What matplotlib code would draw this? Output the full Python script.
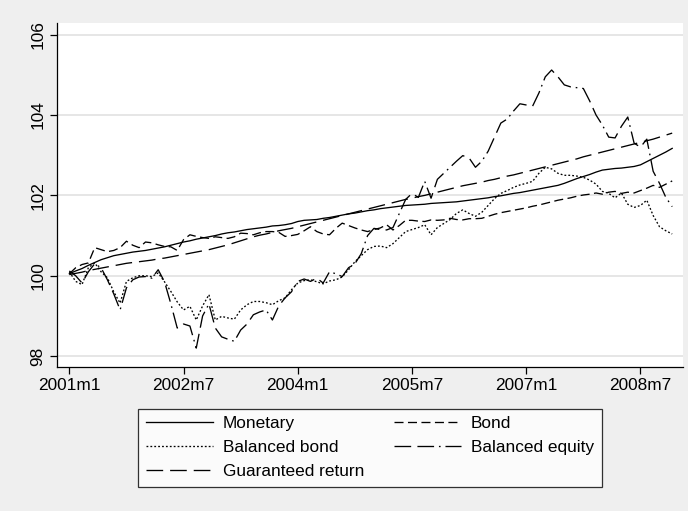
import matplotlib
matplotlib.use("Agg")
import matplotlib.pyplot as plt

plt.rcParams['font.family'] = ['Liberation Sans', 'DejaVu Sans']
plt.rcParams['lines.scale_dashes'] = False

# ---- data: monthly index values, 2001m1 .. 2008m12 ----
months = list(range(96))
xtick_pos = [0, 18, 36, 54, 72, 90]
xtick_labels = ["2001m1", "2002m7", "2004m1", "2005m7", "2007m1", "2008m7"]
ytick_pos = [98, 100, 102, 104, 106]

monetary = [100.05, 100.12, 100.18, 100.26, 100.33, 100.40, 100.45, 100.50, 100.53, 100.56,
            100.59, 100.61, 100.63, 100.66, 100.69, 100.72, 100.76, 100.80, 100.84, 100.87,
            100.91, 100.94, 100.97, 101.00, 101.04, 101.07, 101.09, 101.12, 101.15, 101.17,
            101.19, 101.21, 101.24, 101.25, 101.27, 101.30, 101.35, 101.38, 101.39, 101.40,
            101.43, 101.45, 101.48, 101.51, 101.54, 101.56, 101.59, 101.62, 101.64, 101.67,
            101.69, 101.71, 101.73, 101.75, 101.76, 101.77, 101.78, 101.80, 101.81, 101.82,
            101.83, 101.84, 101.86, 101.88, 101.90, 101.92, 101.94, 101.97, 101.99, 102.02,
            102.05, 102.07, 102.10, 102.13, 102.16, 102.19, 102.22, 102.25, 102.30, 102.36,
            102.42, 102.47, 102.52, 102.58, 102.63, 102.65, 102.67, 102.68, 102.70, 102.72,
            102.76, 102.84, 102.92, 103.00, 103.08, 103.17]

bond = [100.05, 100.20, 100.28, 100.32, 100.70, 100.65, 100.60, 100.63, 100.70, 100.86,
        100.76, 100.70, 100.84, 100.82, 100.77, 100.73, 100.72, 100.63, 100.90, 101.02,
        100.98, 100.95, 100.93, 100.97, 100.95, 100.93, 100.97, 101.06, 101.05, 101.02,
        101.07, 101.10, 101.10, 101.08, 100.98, 101.00, 101.03, 101.12, 101.22, 101.10,
        101.04, 101.02, 101.18, 101.31, 101.25, 101.19, 101.14, 101.10, 101.15, 101.19,
        101.27, 101.14, 101.25, 101.38, 101.38, 101.36, 101.35, 101.39, 101.38, 101.39,
        101.43, 101.40, 101.39, 101.42, 101.42, 101.43, 101.48, 101.53, 101.57, 101.60,
        101.63, 101.66, 101.69, 101.73, 101.76, 101.80, 101.84, 101.88, 101.91, 101.94,
        101.98, 102.01, 102.03, 102.06, 102.03, 102.08, 102.10, 102.05, 102.08, 102.06,
        102.12, 102.18, 102.25, 102.20, 102.28, 102.36]

balanced_bond = [100.10, 99.86, 99.78, 100.20, 100.32, 100.10, 99.95, 99.60, 99.32, 99.86,
                 99.95, 100.00, 100.00, 99.98, 100.07, 99.85, 99.61, 99.35, 99.15, 99.24,
                 98.90, 99.25, 99.53, 98.90, 98.99, 98.95, 98.92, 99.15, 99.28, 99.36,
                 99.36, 99.33, 99.28, 99.38, 99.45, 99.65, 99.82, 99.88, 99.90, 99.85,
                 99.80, 99.87, 99.90, 99.97, 100.15, 100.35, 100.50, 100.65, 100.73, 100.74,
                 100.70, 100.80, 100.95, 101.10, 101.15, 101.20, 101.27, 101.02, 101.20, 101.30,
                 101.40, 101.55, 101.64, 101.55, 101.48, 101.58, 101.75, 101.92, 102.05, 102.12,
                 102.20, 102.26, 102.30, 102.35, 102.55, 102.70, 102.66, 102.55, 102.50, 102.50,
                 102.48, 102.45, 102.38, 102.28, 102.10, 102.05, 101.94, 102.06, 101.78, 101.70,
                 101.75, 101.88, 101.50, 101.22, 101.12, 101.04]

balanced_equity = [100.12, 100.00, 99.82, 100.10, 100.30, 100.20, 99.90, 99.55, 99.15, 99.70,
                   99.90, 99.97, 99.98, 99.94, 100.15, 99.85, 99.30, 98.70, 98.80, 98.75,
                   98.20, 99.00, 99.30, 98.70, 98.48, 98.42, 98.37, 98.65, 98.80, 99.03,
                   99.10, 99.15, 98.90, 99.25, 99.45, 99.60, 99.86, 99.92, 99.86, 99.94,
                   99.82, 100.10, 100.05, 99.98, 100.20, 100.30, 100.55, 101.00, 101.18, 101.15,
                   101.14, 101.20, 101.55, 101.90, 102.05, 101.95, 102.35, 101.93, 102.40, 102.55,
                   102.70, 102.85, 102.99, 102.93, 102.70, 102.85, 103.10, 103.45, 103.80, 103.90,
                   104.10, 104.28, 104.25, 104.22, 104.55, 104.95, 105.12, 104.95, 104.75, 104.70,
                   104.68, 104.66, 104.35, 104.00, 103.75, 103.45, 103.43, 103.72, 103.95, 103.30,
                   103.20, 103.40, 102.60, 102.30, 101.95, 101.72]

guaranteed = [100.03, 100.06, 100.09, 100.13, 100.16, 100.19, 100.22, 100.25, 100.28, 100.31,
              100.33, 100.35, 100.37, 100.39, 100.42, 100.44, 100.47, 100.50, 100.53, 100.56,
              100.59, 100.62, 100.65, 100.69, 100.73, 100.77, 100.82, 100.87, 100.92, 100.97,
              101.01, 101.04, 101.08, 101.12, 101.15, 101.18, 101.22, 101.26, 101.30, 101.34,
              101.38, 101.42, 101.46, 101.50, 101.54, 101.58, 101.62, 101.66, 101.70, 101.74,
              101.78, 101.82, 101.86, 101.90, 101.93, 101.97, 102.00, 102.04, 102.08, 102.12,
              102.16, 102.20, 102.24, 102.27, 102.30, 102.33, 102.37, 102.40, 102.44, 102.48,
              102.51, 102.55, 102.59, 102.63, 102.67, 102.71, 102.75, 102.79, 102.83, 102.87,
              102.91, 102.96, 103.00, 103.04, 103.08, 103.12, 103.16, 103.20, 103.24, 103.28,
              103.32, 103.36, 103.40, 103.45, 103.50, 103.55]

labels = ["Monetary", "Bond", "Balanced bond", "Balanced equity", "Guaranteed return"]

# ---- figure ----
BG = "#EFEFEF"
fig = plt.figure(figsize=(6.88, 5.11), dpi=100, facecolor=BG)
ax = fig.add_axes([0.0828, 0.2818, 0.9099, 0.6732])
ax.set_facecolor("white")

lw = 0.95
styles = {
    "Monetary": dict(linestyle="-"),
    "Bond": dict(linestyle=(0, (6.5, 3.2))),
    "Balanced bond": dict(linestyle=(0, (1.3, 1.5))),
    "Balanced equity": dict(linestyle=(0, (12.0, 4.5, 12.0, 3.5, 1.2, 3.5))),
    "Guaranteed return": dict(linestyle=(0, (12.0, 5.0))),
}
series = {
    "Monetary": monetary,
    "Bond": bond,
    "Balanced bond": balanced_bond,
    "Balanced equity": balanced_equity,
    "Guaranteed return": guaranteed,
}
handles = {}
for name in labels:
    ln, = ax.plot(months, series[name], color="black", linewidth=lw, **styles[name])
    handles[name] = ln

ax.set_xlim(-1.95, 96.7)
ax.set_ylim(97.73, 106.29)
ax.set_xticks(xtick_pos)
ax.set_xticklabels(xtick_labels)
ax.set_yticks(ytick_pos)
ax.set_yticklabels([str(v) for v in ytick_pos])
ax.grid(axis="y", color="#E6E6E6", linewidth=1.4)
ax.set_axisbelow(True)
for s in ["top", "right"]:
    ax.spines[s].set_visible(False)
for s in ["left", "bottom"]:
    ax.spines[s].set_linewidth(0.9)
ax.tick_params(axis="both", direction="out", length=5, width=0.9, labelsize=12.4, color="black")
ax.tick_params(axis="x", pad=3)
ax.tick_params(axis="y", pad=3.5)
for t in ax.get_yticklabels():
    t.set_rotation(90)
    t.set_va("center")

order = ["Monetary", "Balanced bond", "Guaranteed return", "Bond", "Balanced equity"]
leg = fig.legend([handles[n] for n in order], order, loc="center",
                 bbox_to_anchor=(0.5378, 0.1237), bbox_transform=fig.transFigure,
                 ncol=2, fontsize=12.4, frameon=True, fancybox=False,
                 handlelength=3.88, handletextpad=0.58, columnspacing=1.74,
                 borderpad=0.45, labelspacing=0.52)
leg.get_frame().set_edgecolor("black")
leg.get_frame().set_linewidth(0.9)
leg.get_frame().set_facecolor("white")

fig.savefig("out.png", dpi=100, facecolor=BG)
